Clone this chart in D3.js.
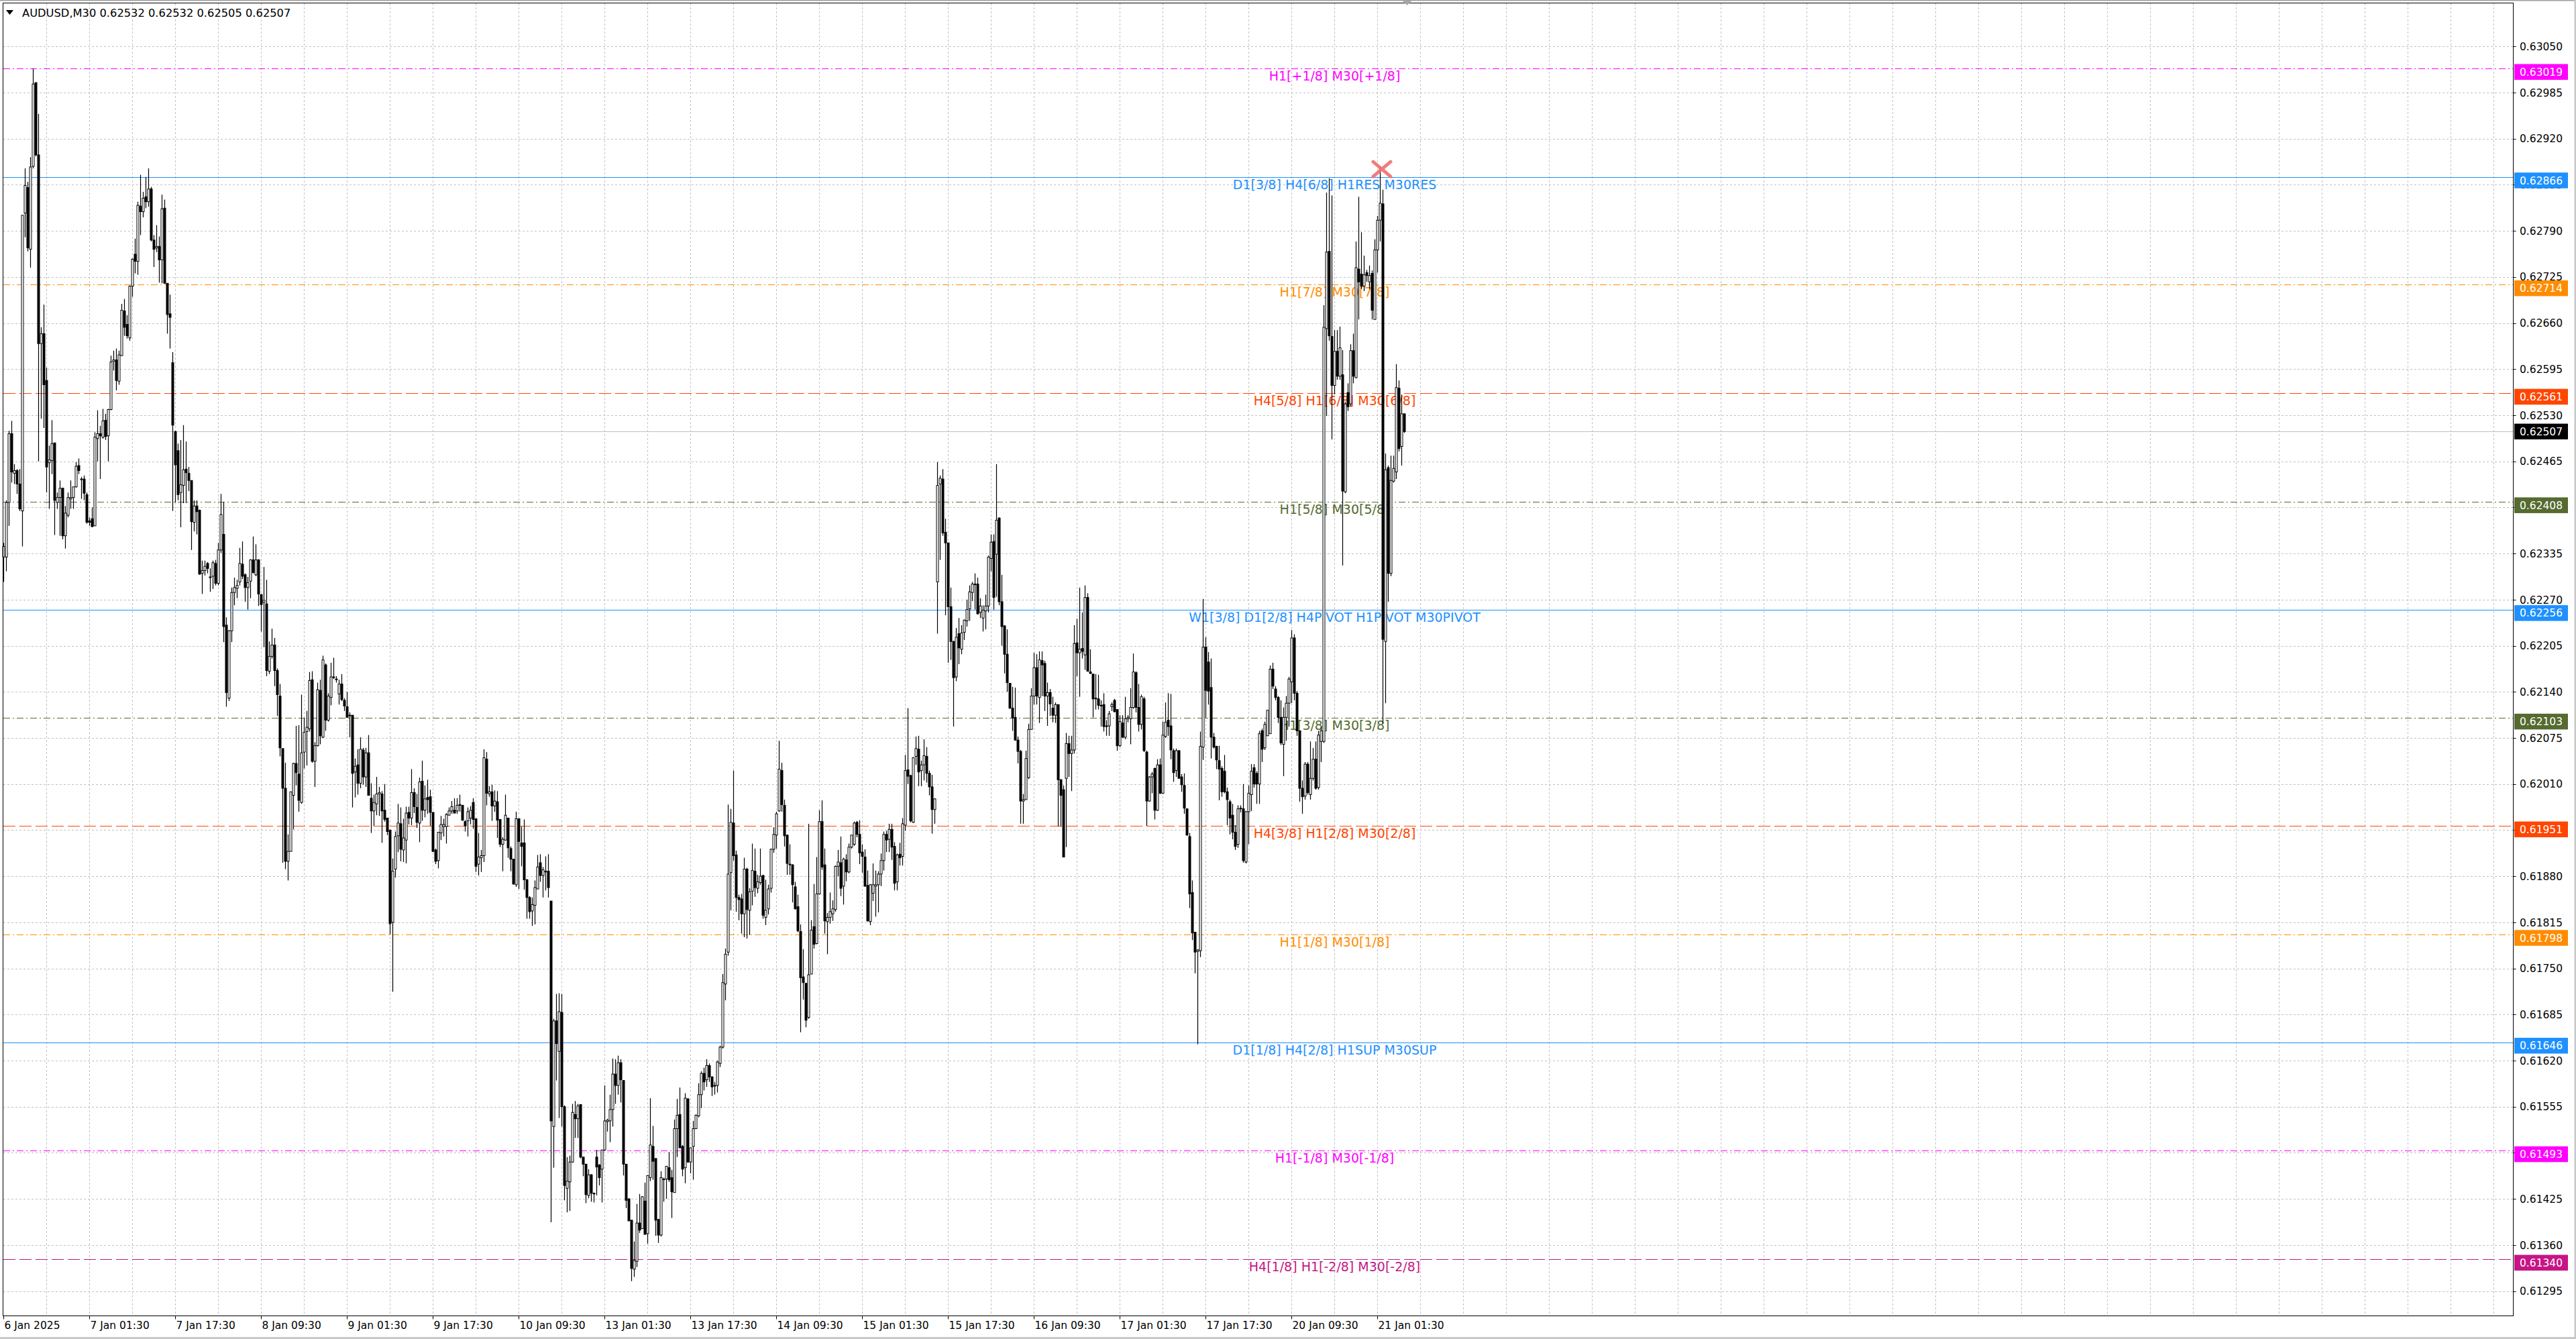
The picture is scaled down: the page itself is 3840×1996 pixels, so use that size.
<!DOCTYPE html>
<html>
<head>
<meta charset="utf-8">
<script src="https://cdn.jsdelivr.net/npm/d3@7"></script>
<style>
  html, body { margin: 0; padding: 0; background: #fff; overflow: hidden; }
  svg { display: block; }
  text { font-family: "DejaVu Sans", sans-serif; }
</style>
</head>
<body>
<script>
const W = 3840, H = 1996;

const title = "AUDUSD,M30  0.62532 0.62532 0.62505 0.62507";

// M30 candles, prices in points (1e-5), first bar 6 Jan 09:30
const opens = [
62330,62330,62407,62504,62448,62452,62433,62395,62815,62851,
62764,62881,62999,62897,62631,62645,62579,62463,62466,62491,
62407,62414,62427,62360,62389,62412,62414,62429,62459,62440,
62440,62418,62381,62384,62374,62497,62504,62499,62523,62501,
62538,62606,62608,62578,62614,62677,62658,62639,62712,62757,
62747,62825,62817,62838,62831,62849,62777,62766,62768,62749,
62822,62716,62673,62604,62507,62480,62421,62431,62454,62448,
62438,62379,62402,62396,62307,62311,62321,62302,62303,62321,
62293,62340,62362,62234,62131,62226,62280,62286,62295,62320,
62305,62287,62296,62326,62305,62326,62277,62266,62264,62169,
62190,62206,62170,62134,62060,62004,61901,61915,61994,62039,
62024,61984,62055,62084,62088,62157,62042,62064,62142,62076,
62178,62100,62132,62161,62158,62137,62151,62128,62119,62107,
62107,62027,62037,62011,62058,62020,62054,61990,61972,61982,
61996,61996,61973,61962,61945,61815,61890,61937,61954,61917,
61931,61970,61962,61998,61977,61955,62014,61973,61991,61992,
61970,61917,61902,61941,61950,61950,61966,61972,61973,61972,
61981,61980,61957,61958,61962,61984,61961,61897,61906,61909,
62045,61996,61999,61979,61985,61960,61925,61931,61962,61919,
61904,61868,61961,61927,61927,61875,61850,61831,61839,61862,
61899,61881,61887,61887,61845,61527,61676,61633,61688,61555,
61440,61449,61477,61544,61538,61558,61484,61474,61430,61459,
61433,61484,61473,61467,61494,61534,61535,61551,61601,61585,
61617,61592,61474,61425,61395,61326,61337,61391,61383,61422,
61376,61455,61499,61482,61396,61374,61453,61453,61469,61455,
61434,61524,61544,61499,61469,61566,61477,61499,61524,61542,
61572,61602,61593,61613,61597,61585,61585,61616,61639,61728,
61773,61885,61955,61910,61850,61848,61827,61890,61832,61859,
61887,61863,61871,61881,61822,61834,61863,61918,61938,61972,
62029,61980,61938,61897,61896,61865,61837,61802,61738,61729,
61681,61742,61809,61785,61855,61957,61896,61816,61822,61827,
61833,61894,61899,61866,61903,61886,61921,61925,61956,61939,
61914,61907,61867,61816,61856,61866,61868,61883,61902,61939,
61932,61946,61922,61872,61911,61908,61952,62030,62022,61956,
62049,62059,62029,62037,62049,62025,62006,61974,62295,62433,
62440,62365,62350,62260,62211,62161,62222,62200,62224,62240,
62257,62280,62292,62292,62252,62244,62254,62261,62328,62352,
62334,62385,62267,62233,62193,62152,62117,62104,62072,62056,
61986,61988,62019,62087,62134,62174,62132,62184,62180,62134,
62139,62117,62107,62122,62016,62002,62018,62067,62053,62058,
62209,62195,62201,62192,62273,62168,62165,62131,62130,62121,
62122,62092,62092,62119,62128,62115,62064,62096,62076,62102,
62102,62118,62167,62118,62094,62130,62055,61986,62020,62032,
61973,62037,61997,62077,62100,62092,62057,62029,62057,62020,
62008,61975,61936,61857,61801,61774,61775,62062,62203,62182,
62146,62076,62063,62043,62032,62028,61999,61985,61966,61942,
61925,61975,61975,61900,61971,61995,62033,62025,62010,62085,
62061,62078,62081,62172,62144,62132,62104,62066,62104,62124,
62154,62216,62138,62085,62004,61993,62038,61995,62018,62045,
62005,62070,62070,62652,62761,62641,62572,62620,62585,62587,
62422,62562,62546,62621,62583,62736,62729,62712,62731,62718,
62730,62665,62763,62805,62828,62211,62456,62307,62437,62450,
62568,62486,62532
];
const highs = [
62350,62410,62508,62522,62461,62454,62454,62812,62878,62859,
62894,63019,62999,62955,62654,62686,62597,62487,62523,62491,
62421,62438,62428,62402,62421,62438,62429,62464,62469,62443,
62445,62421,62386,62400,62506,62537,62515,62539,62532,62539,
62614,62621,62624,62621,62687,62694,62671,62713,62751,62779,
62831,62869,62845,62866,62878,62852,62784,62798,62782,62841,
62834,62716,62700,62619,62508,62490,62495,62516,62493,62457,
62438,62410,62410,62397,62325,62325,62323,62314,62325,62326,
62350,62419,62408,62245,62227,62287,62301,62298,62343,62352,
62307,62302,62327,62359,62348,62327,62278,62316,62298,62211,
62229,62216,62173,62151,62060,62040,61939,61999,62040,62092,
62093,62136,62103,62113,62168,62169,62069,62153,62157,62191,
62180,62138,62181,62188,62162,62157,62165,62131,62140,62111,
62107,62046,62059,62076,62061,62061,62079,62011,61995,62020,
62006,62000,62010,61962,61945,61905,61943,61982,61977,61961,
61978,61978,62031,62004,61996,62019,62043,62008,62016,62002,
61970,61919,61942,61965,61961,61969,61977,61986,61990,61990,
61995,61980,61959,61977,61979,61990,61961,61941,61917,62059,
62055,62007,62009,62001,62000,61960,61935,61995,61962,61922,
61904,61971,61961,61950,61960,61876,61852,61850,61874,61910,
61911,61893,61908,61911,61845,61679,61714,61715,61714,61557,
61484,61486,61559,61563,61559,61558,61484,61474,61467,61460,
61434,61494,61474,61494,61585,61538,61572,61623,61622,61627,
61622,61592,61474,61426,61395,61365,61418,61432,61429,61448,
61458,61567,61528,61482,61397,61464,61455,61471,61491,61466,
61537,61566,61582,61501,61574,61567,61497,61535,61544,61588,
61605,61610,61622,61616,61598,61590,61620,61641,61742,61778,
61981,61975,62029,61916,61854,61855,61906,61892,61863,61926,
61919,61882,61919,61882,61875,61868,61919,61949,61971,62071,
62040,61988,61938,61925,61897,61872,61854,61812,61777,61729,
61954,61818,61869,61907,61973,61987,61919,61828,61857,61846,
61895,61917,61936,61906,61911,61926,61938,61957,61958,61959,
61925,61918,61888,61869,61898,61888,61887,61912,61943,61944,
61954,61954,61928,61912,61927,61962,62051,62117,62023,62048,
62077,62078,62043,62073,62062,62029,62023,61990,62464,62445,
62454,62384,62350,62287,62212,62230,62244,62234,62242,62270,
62290,62295,62307,62301,62272,62262,62277,62332,62362,62362,
62461,62386,62305,62234,62228,62152,62147,62146,62077,62058,
61996,62057,62095,62145,62195,62193,62197,62197,62184,62153,
62144,62133,62125,62122,62017,62008,62082,62078,62078,62234,
62243,62287,62252,62290,62279,62200,62165,62165,62164,62128,
62138,62100,62113,62125,62130,62115,62107,62107,62133,62107,
62145,62194,62169,62151,62136,62133,62057,62021,62027,62033,
62045,62046,62098,62125,62138,62137,62060,62060,62058,62024,
62025,61975,61941,61874,61801,61777,62084,62271,62217,62196,
62187,62082,62064,62064,62035,62051,62005,61988,61982,61952,
61980,61980,62010,61972,62008,62038,62038,62028,62085,62088,
62098,62114,62177,62181,62148,62134,62128,62118,62134,62161,
62227,62221,62141,62085,62015,62041,62041,62070,62061,62070,
62085,62091,62685,62844,62864,62840,62650,62650,62655,62622,
62549,62575,62630,62645,62775,62838,62788,62755,62735,62741,
62734,62778,62811,62880,62848,62476,62459,62473,62473,62602,
62579,62559,62532
];
const lows = [
62295,62310,62374,62435,62433,62419,62395,62345,62781,62761,
62738,62878,62895,62465,62525,62512,62421,62398,62447,62361,
62398,62360,62355,62342,62386,62398,62398,62428,62447,62412,
62410,62377,62374,62372,62374,62465,62440,62497,62495,62465,
62537,62593,62565,62573,62614,62642,62638,62635,62697,62730,
62728,62784,62809,62822,62824,62775,62739,62760,62717,62716,
62716,62645,62624,62395,62407,62410,62372,62406,62406,62423,
62340,62366,62362,62305,62278,62304,62307,62281,62285,62290,
62290,62336,62210,62119,62127,62210,62262,62272,62290,62299,
62267,62256,62272,62307,62303,62261,62225,62203,62162,62165,
62187,62148,62106,62049,61899,61890,61874,61915,61946,62008,
61971,61982,62032,62036,62084,62040,62006,62063,62066,62075,
62085,62098,62121,62158,62153,62122,62127,62113,62104,62076,
61977,61991,61995,62004,62009,62006,61994,61941,61951,61966,
61965,61927,61957,61938,61798,61717,61878,61914,61901,61900,
61898,61953,61952,61969,61948,61928,61958,61963,61968,61951,
61914,61897,61891,61931,61936,61926,61966,61968,61969,61968,
61971,61958,61943,61936,61953,61947,61886,61881,61886,61900,
61980,61992,61958,61971,61934,61921,61887,61930,61906,61887,
61868,61865,61862,61894,61861,61820,61820,61810,61812,61862,
61872,61850,61860,61850,61392,61469,61592,61539,61527,61423,
61406,61408,61476,61511,61511,61482,61457,61419,61426,61421,
61420,61430,61444,61420,61493,61520,61505,61527,61559,61572,
61561,61458,61412,61394,61309,61315,61329,61377,61383,61375,
61362,61450,61452,61373,61363,61372,61421,61425,61449,61398,
61434,61484,61497,61457,61447,61476,61461,61452,61524,61540,
61553,61578,61583,61590,61570,61572,61575,61611,61637,61705,
61768,61832,61902,61830,61818,61799,61794,61792,61797,61839,
61851,61856,61868,61820,61811,61826,61857,61913,61919,61971,
61971,61922,61882,61882,61843,61833,61801,61660,61706,61667,
61679,61742,61778,61784,61854,61889,61799,61770,61813,61817,
61830,61880,61852,61840,61873,61884,61919,61923,61935,61897,
61885,61865,61816,61811,61845,61823,61829,61866,61888,61914,
61914,61903,61860,61860,61895,61895,61944,62010,61956,61955,
62037,62007,62007,62015,62012,61994,61940,61954,62222,62326,
62360,62248,62181,62185,62091,62155,62179,62193,62213,62232,
62240,62268,62256,62249,62244,62225,62228,62252,62310,62256,
62274,62262,62205,62166,62140,62116,62085,62071,62039,61954,
61954,61988,62017,62087,62122,62122,62096,62134,62113,62092,
62106,62097,62096,61950,61950,61907,61921,62020,62000,62053,
62162,62133,62187,62171,62169,62165,62104,62115,62115,62091,
62084,62078,62078,62113,62111,62057,62062,62075,62073,62097,
62066,62116,62111,62084,62087,62055,61951,61985,61997,61960,
61972,61996,61996,62075,62078,62045,62013,62020,62018,61999,
61968,61937,61835,61790,61743,61643,61766,62044,62102,62122,
62046,62060,62031,61987,61992,61997,61952,61939,61932,61917,
61920,61970,61899,61898,61925,61972,62005,61982,61982,62041,
62058,62078,62081,62144,62128,62096,62065,62021,62071,62091,
62124,62128,62078,61985,61968,61988,61995,61988,62015,62002,
62002,62041,62068,62529,62635,62496,62560,62580,62580,62318,
62420,62536,62542,62575,62582,62665,62708,62705,62718,62708,
62665,62665,62731,62775,62095,62124,62267,62303,62435,62440,
62479,62459,62505
];
const closes = [
62345,62407,62504,62450,62452,62433,62398,62812,62854,62766,
62880,62997,62897,62631,62645,62573,62457,62467,62490,62410,
62414,62427,62360,62392,62414,62414,62429,62458,62452,62440,
62420,62379,62379,62373,62499,62504,62501,62522,62500,62538,
62605,62608,62579,62615,62678,62654,62642,62712,62750,62747,
62826,62817,62836,62831,62849,62777,62764,62768,62749,62821,
62716,62672,62668,62516,62460,62418,62432,62453,62449,62438,
62380,62402,62394,62306,62311,62317,62314,62302,62322,62293,
62340,62390,62232,62139,62226,62280,62287,62290,62321,62303,
62287,62294,62326,62308,62326,62278,62263,62269,62170,62190,
62206,62170,62136,62061,62004,61901,61915,61999,62039,62026,
61987,62054,62083,62090,62156,62042,62064,62143,62078,62185,
62100,62134,62161,62161,62158,62151,62129,62120,62104,62107,
62025,62035,62011,62059,62020,62054,61994,61972,61984,61996,
61998,61972,61960,61943,61813,61887,61936,61955,61918,61934,
61969,61962,61998,61978,61956,62013,61973,61989,61988,61970,
61915,61901,61942,61953,61953,61967,61972,61978,61969,61980,
61980,61959,61951,61971,61973,61960,61894,61907,61909,62047,
61997,61999,61979,61986,61959,61925,61932,61966,61920,61904,
61869,61961,61929,61922,61875,61850,61830,61840,61864,61893,
61881,61889,61887,61864,61535,61676,61644,61689,61555,61444,
61450,61477,61547,61538,61556,61484,61474,61431,61459,61433,
61433,61470,61455,61494,61535,61536,61551,61601,61585,61617,
61593,61474,61423,61394,61327,61338,61391,61381,61428,61375,
61458,61501,61478,61395,61374,61455,61453,61471,61452,61435,
61524,61543,61497,61467,61567,61477,61497,61524,61543,61572,
61602,61590,61613,61597,61583,61585,61618,61639,61730,61770,
61883,61956,61909,61850,61847,61827,61890,61833,61858,61888,
61864,61872,61880,61825,61832,61862,61918,61939,61968,62031,
61981,61937,61898,61896,61868,61834,61803,61737,61730,61677,
61741,61804,61784,61855,61957,61893,61817,61822,61830,61834,
61894,61900,61863,61904,61886,61921,61938,61955,61939,61913,
61908,61866,61817,61868,61868,61868,61883,61902,61939,61931,
61946,61921,61870,61910,61906,61954,62029,62021,61958,62047,
62060,62027,62037,62050,62025,62006,61974,61989,62431,62441,
62364,62350,62260,62211,62160,62217,62202,62223,62241,62256,
62281,62292,62292,62250,62261,62255,62261,62330,62351,62273,
62382,62267,62232,62193,62153,62117,62103,62072,62056,61986,
61988,62046,62087,62134,62174,62134,62185,62178,62134,62139,
62123,62107,62122,62016,61994,61907,62067,62053,62058,62208,
62195,62200,62197,62273,62169,62166,62130,62130,62121,62120,
62091,62091,62109,62122,62112,62064,62098,62076,62102,62104,
62118,62168,62118,62094,62133,62057,61986,62020,62024,61973,
62037,61997,62079,62097,62091,62058,62026,62057,62018,62009,
61976,61938,61855,61800,61773,61776,62063,62203,62142,62141,
62076,62062,62044,62031,61999,61999,61988,61962,61942,61922,
61975,61976,61902,61971,61997,62028,62010,62010,62081,62059,
62094,62114,62172,62148,62132,62104,62068,62104,62124,62158,
62216,62138,62085,62004,61992,62038,61998,62018,62045,62004,
62079,62085,62654,62760,62642,62572,62620,62585,62625,62423,
62546,62542,62621,62585,62738,62718,62712,62728,62727,62727,
62678,62763,62805,62829,62214,62453,62307,62438,62455,62569,
62483,62532,62507
];

// time axis labels, one every 32 bars
const timeLabels = ["6 Jan 2025","7 Jan 01:30","7 Jan 17:30","8 Jan 09:30","9 Jan 01:30",
  "9 Jan 17:30","10 Jan 09:30","13 Jan 01:30","13 Jan 17:30","14 Jan 09:30","15 Jan 01:30",
  "15 Jan 17:30","16 Jan 09:30","17 Jan 01:30","17 Jan 17:30","20 Jan 09:30","21 Jan 01:30"];
const timeLabelEvery = 32;

// price scale ticks
const priceTicks = ["0.63050","0.62985","0.62920","0.62855","0.62790","0.62725","0.62660",
  "0.62595","0.62530","0.62465","0.62400","0.62335","0.62270","0.62205","0.62140","0.62075",
  "0.62010","0.61945","0.61880","0.61815","0.61750","0.61685","0.61620","0.61555","0.61490",
  "0.61425","0.61360","0.61295"];

// Murrey levels
const levelPrices = [0.63019, 0.62866, 0.62714, 0.62561, 0.62408, 0.62256,
                     0.62103, 0.61951, 0.61798, 0.61646, 0.61493, 0.61340];
const levelNames = ["H1[+1/8] M30[+1/8]", "D1[3/8] H4[6/8] H1RES M30RES", "H1[7/8] M30[7/8]",
  "H4[5/8] H1[6/8] M30[6/8]", "H1[5/8] M30[5/8]", "W1[3/8] D1[2/8] H4PIVOT H1PIVOT M30PIVOT",
  "H1[3/8] M30[3/8]", "H4[3/8] H1[2/8] M30[2/8]", "H1[1/8] M30[1/8]",
  "D1[1/8] H4[2/8] H1SUP M30SUP", "H1[-1/8] M30[-1/8]", "H4[1/8] H1[-2/8] M30[-2/8]"];
const bidPrice = 0.62507;
const stopMarks = [{bar: 513.6, price: 0.62877}];

// styles
const levelColors = ["#ff00ff","#1e90ff","#ff8c00","#ff4500","#556b2f","#1e90ff",
                     "#556b2f","#ff4500","#ff8c00","#1e90ff","#ff00ff","#c71585"];
const levelDash = ["10,4,2,4", null, "10,4,2,4", "18,6", "10,4,2,4", null,
                   "10,4,2,4", "18,6", "10,4,2,4", null, "10,4,2,4", "18,6"];

const frame = {left: 4.5, top: 4.5, right: 3746.5, bottom: 1961.5};
const labelBar = 496;
const axisFont = 15.5;

const svg = d3.select("body").append("svg")
  .attr("width", W).attr("height", H)
  .attr("viewBox", `0 0 ${W} ${H}`);

svg.append("rect").attr("width", W).attr("height", H).attr("fill", "#fff");

const x = d3.scaleLinear().domain([0, 935]).range([5.5, 3745.5]);
const y = d3.scaleLinear().domain([0.61295, 0.63050]).range([1924.6, 69.2]);
const pt = v => v / 1e5;

const bars = opens.map((o, i) => ({i, o: pt(o), h: pt(highs[i]), l: pt(lows[i]), c: pt(closes[i])}));

// grid
const grid = svg.append("g").attr("stroke", "#c0c0c0").attr("stroke-width", 1)
  .attr("stroke-dasharray", "3,3").attr("shape-rendering", "crispEdges");
grid.selectAll("line.h").data(priceTicks).join("line")
  .attr("x1", frame.left).attr("x2", frame.right)
  .attr("y1", d => Math.round(y(+d)) + 0.5).attr("y2", d => Math.round(y(+d)) + 0.5);
const vx = [];
for (let k = 16; x(k) < frame.right; k += 16) vx.push(k);
grid.selectAll("line.v").data(vx).join("line")
  .attr("x1", d => x(d) - 0.5).attr("x2", d => x(d) - 0.5)
  .attr("y1", frame.top).attr("y2", frame.bottom);

// level lines
svg.append("g").attr("shape-rendering", "crispEdges")
  .selectAll("line").data(levelPrices).join("line")
  .attr("x1", frame.left).attr("x2", frame.right)
  .attr("y1", d => Math.round(y(d)) + 0.5).attr("y2", d => Math.round(y(d)) + 0.5)
  .attr("stroke", (d, i) => levelColors[i]).attr("stroke-width", 1)
  .attr("stroke-dasharray", (d, i) => levelDash[i]);

// bid line
svg.append("line").attr("shape-rendering", "crispEdges")
  .attr("x1", frame.left).attr("x2", frame.right)
  .attr("y1", Math.round(y(bidPrice)) + 0.5).attr("y2", Math.round(y(bidPrice)) + 0.5)
  .attr("stroke", "#c0c0c0").attr("stroke-width", 1);

// level names
svg.append("g").selectAll("text").data(levelPrices).join("text")
  .attr("x", x(labelBar)).attr("y", d => y(d) + 18)
  .attr("text-anchor", "middle").attr("font-size", 19)
  .attr("fill", (d, i) => levelColors[i])
  .text((d, i) => levelNames[i]);

// candles
const cg = svg.append("g");
cg.selectAll("line").data(bars).join("line")
  .attr("x1", d => x(d.i)).attr("x2", d => x(d.i))
  .attr("y1", d => y(d.h)).attr("y2", d => y(d.l))
  .attr("stroke", "#000").attr("stroke-width", 1.2);
cg.selectAll("rect").data(bars).join("rect")
  .attr("x", d => x(d.i) - 1.5).attr("width", 3)
  .attr("y", d => y(Math.max(d.o, d.c)))
  .attr("height", d => Math.max(1, Math.abs(y(d.o) - y(d.c))))
  .attr("fill", d => d.c >= d.o ? "#fff" : "#000")
  .attr("stroke", "#000").attr("stroke-width", 1);

// stop marker
const mg = svg.append("g").attr("stroke", "#ef7070").attr("stroke-width", 5)
  .attr("stroke-linecap", "round").attr("opacity", 0.9);
stopMarks.forEach(m => {
  const cx = x(m.bar), cy = y(m.price);
  mg.append("line").attr("x1", cx - 13).attr("y1", cy - 11).attr("x2", cx + 13).attr("y2", cy + 11);
  mg.append("line").attr("x1", cx - 13).attr("y1", cy + 11).attr("x2", cx + 13).attr("y2", cy - 11);
});

// frame
svg.append("rect")
  .attr("x", frame.left).attr("y", frame.top)
  .attr("width", frame.right - frame.left).attr("height", frame.bottom - frame.top)
  .attr("fill", "none").attr("stroke", "#000").attr("stroke-width", 1);

// chart shift marker
const sx = x(opens.length);
svg.append("path").attr("d", `M${sx - 7},1 L${sx + 7},1 L${sx},8 Z`).attr("fill", "#a8a8a8");

// window edges
svg.append("rect").attr("x", 0).attr("y", 0).attr("width", W).attr("height", 1.5).attr("fill", "#a0a0a0");
svg.append("rect").attr("x", W - 2.5).attr("y", 0).attr("width", 2.5).attr("height", H).attr("fill", "#c8c8c8");
svg.append("rect").attr("x", 0).attr("y", H - 3).attr("width", W).attr("height", 3).attr("fill", "#c8c8c8");

// price axis
const pa = svg.append("g");
pa.selectAll("line").data(priceTicks).join("line")
  .attr("x1", frame.right).attr("x2", frame.right + 4)
  .attr("y1", d => Math.round(y(+d)) + 0.5).attr("y2", d => Math.round(y(+d)) + 0.5)
  .attr("stroke", "#000");
pa.selectAll("text").data(priceTicks).join("text")
  .attr("x", 3756).attr("y", d => y(+d) + 5.7)
  .attr("font-size", axisFont).attr("fill", "#000")
  .text(d => d);

// time axis
const tg = svg.append("g");
tg.selectAll("line").data(timeLabels).join("line")
  .attr("x1", (d, i) => x(i * timeLabelEvery)).attr("x2", (d, i) => x(i * timeLabelEvery))
  .attr("y1", frame.bottom).attr("y2", frame.bottom + 5)
  .attr("stroke", "#000");
tg.selectAll("text").data(timeLabels).join("text")
  .attr("x", (d, i) => x(i * timeLabelEvery) + 1).attr("y", 1981)
  .attr("font-size", axisFont).attr("fill", "#000")
  .text(d => d);

// price boxes for levels
const pb = svg.append("g");
levelPrices.forEach((p, i) => {
  const py = y(p);
  pb.append("rect").attr("x", 3748).attr("y", py - 6.5).attr("width", 80).attr("height", 23.5)
    .attr("fill", levelColors[i]);
  pb.append("text").attr("x", 3756).attr("y", py + 10.8)
    .attr("font-size", axisFont).attr("fill", "#fff").text(p.toFixed(5));
});
const by = y(bidPrice);
pb.append("rect").attr("x", 3748).attr("y", by - 11.7).attr("width", 80).attr("height", 23.4).attr("fill", "#000");
pb.append("text").attr("x", 3756).attr("y", by + 5.7)
  .attr("font-size", axisFont).attr("fill", "#fff").text(bidPrice.toFixed(5));

// title
svg.append("path").attr("d", "M9,15 L20,15 L14.5,22 Z").attr("fill", "#000");
svg.append("text").attr("x", 33).attr("y", 25).attr("font-size", 16.3).attr("fill", "#000").text(title);
</script>
</body>
</html>
